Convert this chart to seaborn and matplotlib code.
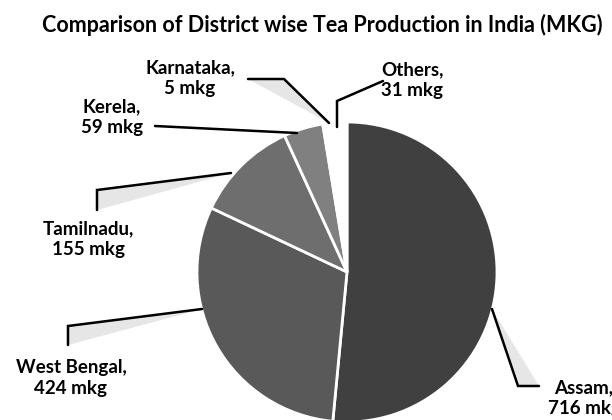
import seaborn as sns
import matplotlib.pyplot as plt
from matplotlib.patches import Polygon

# data
states = ['Assam', 'West Bengal', 'Tamilnadu', 'Kerela', 'Karnataka', 'Others']
production = [716, 424, 155, 59, 5, 31]
shades = ['#404040', '#595959', '#6e6e6e', '#808080', '#ffffff', '#ffffff']

sns.set_theme(style='white')
plt.rcParams['font.family'] = ['Lato', 'DejaVu Sans']

W, H = 612, 420
fig = plt.figure(figsize=(6.12, 4.2), dpi=100)
ax = fig.add_axes([0, 0, 1, 1])

# pie centre / radius in pixel space (y measured from the top)
cx, cy, r = 347, 272, 150
ax.pie(production, colors=shades, startangle=90, counterclock=False,
       center=(cx, H - cy), radius=r,
       wedgeprops=dict(edgecolor='white', linewidth=2))

ax.set_xlim(0, W)
ax.set_ylim(0, H)
ax.set_aspect('equal')
ax.axis('off')

def py(y):
    return H - y

# label text positions (centre of text block) and leader lines, pixel coords
label_pos = {
    'Assam': (584, 398),
    'West Bengal': (71, 378),
    'Tamilnadu': (88, 239),
    'Kerela': (112, 117),
    'Karnataka': (190, 78),
    'Others': (412, 80),
}
leaders = {
    'Assam': [(539, 386), (518, 386), (492, 309)],
    'West Bengal': [(68, 345), (68, 326), (202, 309)],
    'Tamilnadu': [(97, 210), (97, 190), (231, 173)],
    'Kerela': [(155, 126), (297, 133)],
    'Karnataka': [(248, 79), (284, 79), (329, 123)],
    'Others': [(383, 81), (337, 101), (337, 127)],
}
shadowed = ['Assam', 'West Bengal', 'Tamilnadu', 'Karnataka']

for name in shadowed:
    pts = leaders[name]
    ax.add_patch(Polygon([(x, py(y)) for x, y in pts], closed=True,
                         facecolor='#e6e6e6', edgecolor='none', zorder=3))

for name, pts in leaders.items():
    ax.plot([p[0] for p in pts], [py(p[1]) for p in pts],
            color='black', lw=1.8, zorder=4, solid_joinstyle='miter')

for name, val in zip(states, production):
    x, y = label_pos[name]
    ax.text(x, py(y), f'{name},\n{val} mkg', ha='center', va='center',
            fontsize=13.5, fontweight='bold', color='black',
            linespacing=1.3, zorder=5)

ax.text(322, py(25), 'Comparison of District wise Tea Production in India (MKG)',
        ha='center', va='center', fontsize=15.5, fontweight='bold', color='black')

fig.savefig('out.png', dpi=100)
